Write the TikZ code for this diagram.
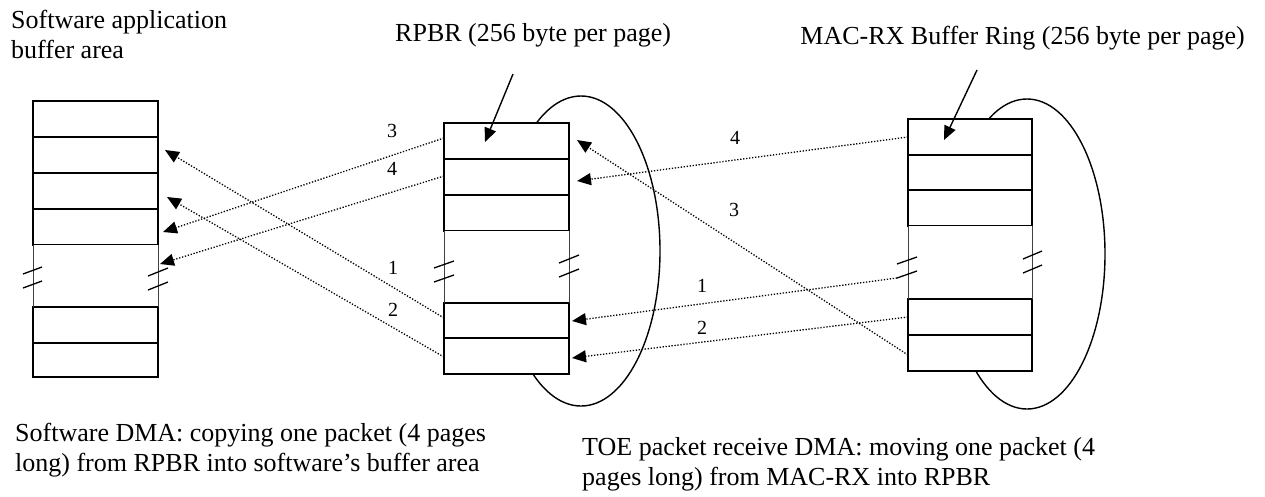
\documentclass[tikz,border=0pt]{standalone}
\usepackage{fontspec}
\setmainfont{Liberation Serif}
\usetikzlibrary{arrows.meta,calc,shapes.geometric}
\begin{document}
\begin{tikzpicture}[x=1pt,y=-1pt,
  cell/.style={draw,line width=1.6pt,fill=white,minimum width=125pt,minimum height=36pt,inner sep=0pt,outer sep=0pt},
  gapbox/.style={fill=white,minimum width=125pt,inner sep=0pt,outer sep=0pt},
  gapside/.style={line width=0.9pt,draw=black!75},
  ring/.style={draw,ellipse,line width=1.4pt,inner sep=0pt},
  brk/.style={line width=1.3pt},
  dma/.style={line width=1.3pt,dash pattern=on 1.3pt off 1.7pt,-{Triangle[length=14pt,width=12pt]}},
  ptr/.style={line width=1.4pt,-{Triangle[length=14pt,width=12pt]}},
  lbl/.style={font=\fontsize{26}{30}\selectfont,inner sep=0pt,align=left},
  num/.style={font=\fontsize{20}{24}\selectfont,inner sep=0pt}
]
\useasboundingbox (0,0) rectangle (1265,496);
% rings
\node[ring,minimum width=158pt,minimum height=310pt] (Me) at (581,251) {};
\node[ring,minimum width=156pt,minimum height=310pt] (Re) at (1027,254) {};
% left buffer
\node[cell] (L1) at (95.5,119) {};
\node[cell] (L2) at (95.5,155) {};
\node[cell] (L3) at (95.5,191) {};
\node[cell] (L4) at (95.5,227) {};
\node[gapbox,minimum height=62pt] (Lg) at (95.5,276) {};
\node[cell] (L5) at (95.5,325) {};
\node[cell,minimum height=34pt] (L6) at (95.5,360) {};
\draw[gapside] (Lg.north west) -- (Lg.south west) (Lg.north east) -- (Lg.south east);
% middle buffer (RPBR)
\node[cell] (M1) at (506.5,141) {};
\node[cell] (M2) at (506.5,177) {};
\node[cell] (M3) at (506.5,213) {};
\node[gapbox,minimum height=72pt] (Mg) at (506.5,267) {};
\node[cell,minimum height=35pt] (M4) at (506.5,320.5) {};
\node[cell] (M5) at (506.5,356) {};
\draw[gapside] (Mg.north west) -- (Mg.south west) (Mg.north east) -- (Mg.south east);
% right buffer (MAC-RX)
\node[cell,minimum width=124pt] (R1) at (970,137) {};
\node[cell,minimum width=124pt,minimum height=35pt] (R2) at (970,172.5) {};
\node[cell,minimum width=124pt] (R3) at (970,208) {};
\node[gapbox,minimum width=124pt,minimum height=73pt] (Rg) at (970,262.5) {};
\node[cell,minimum width=124pt] (R4) at (970,317) {};
\node[cell,minimum width=124pt] (R5) at (970,353) {};
\draw[gapside] (Rg.north west) -- (Rg.south west) (Rg.north east) -- (Rg.south east);
% break marks
\draw[brk] (23,274) -- (42,267) (23,288) -- (42,281)
           (148,276) -- (168,268) (148,290) -- (168,282)
           (434,268) -- (454,261) (434,282) -- (454,275)
           (559,263) -- (579,255) (559,277) -- (579,269)
           (897,264) -- (917,257) (897,278) -- (917,271)
           (1023,259) -- (1042,251) (1023,273) -- (1042,265);
\coordinate (Rbrk) at (897,278);
% labels
\node[lbl,anchor=north west] (tSW) at (11,10) {Software application\\buffer area};
\node[lbl,anchor=base west] (tRP) at (395,41) {RPBR (256 byte per page)};
\node[lbl,anchor=base east] (tMX) at (1245,44) {MAC-RX Buffer Ring (256 byte per page)};
\node[lbl,anchor=north west] (tB1) at (15,423) {Software DMA: copying one packet (4 pages\\long) from RPBR into software’s buffer area};
\node[lbl,anchor=north west] (tB2) at (582,437) {TOE packet receive DMA: moving one packet (4\\pages long) from MAC-RX into RPBR};
% pointers
\coordinate (pR) at (513,74);
\coordinate (pX) at (977,70);
\draw[ptr] (pR) -- ([xshift=-21.5pt,yshift=-1pt]M1.center);
\draw[ptr] (pX) -- ([xshift=-26pt,yshift=-3pt]R1.center);
% software DMA arrows
\draw[dma] ([yshift=3pt]M1.west) -- ([xshift=5pt,yshift=-5pt]L4.east);
\draw[dma] ([yshift=1pt]M2.west) -- ([xshift=2pt,yshift=12pt]Lg.east);
\draw[dma] ([yshift=2.5pt]M4.west) -- ([xshift=7pt,yshift=5pt]L2.east);
\draw[dma] ([yshift=-1pt]M5.west) -- ([xshift=9pt,yshift=-6pt]L3.east);
\node[num] (n3a) at (392,131) {3};
\node[num] (n4a) at (392,169) {4};
\node[num] (n1a) at (393,268) {1};
\node[num] (n2a) at (393,310) {2};
% TOE DMA arrows
\draw[dma] (R1.west) -- ([xshift=8pt,yshift=-4pt]M2.east);
\draw[dma] ([yshift=-2pt]R5.west) -- ([xshift=8pt,yshift=1pt]M1.east);
\draw[dma] (Rbrk) -- ([xshift=3pt,yshift=-0.5pt]M4.east);
\draw[dma] (R4.west) -- ([xshift=3pt,yshift=-2pt]M5.east);
\node[num] (n4b) at (735,138) {4};
\node[num] (n3b) at (734,210) {3};
\node[num] (n1b) at (702,286) {1};
\node[num] (n2b) at (702,328) {2};
\end{tikzpicture}
\end{document}
